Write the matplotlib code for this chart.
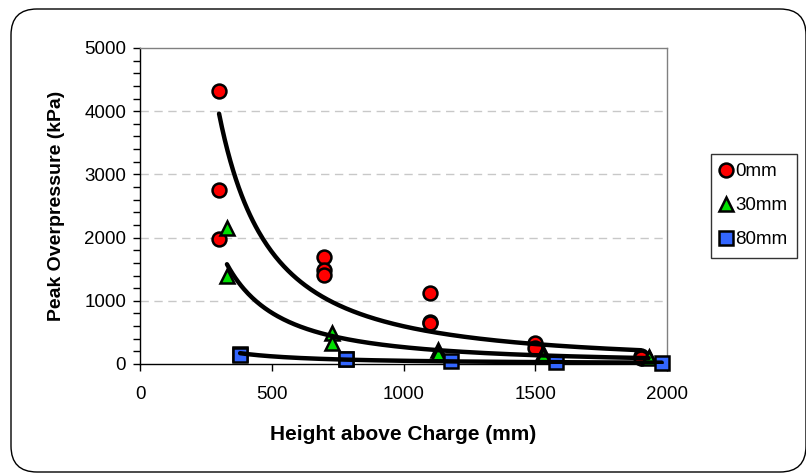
import numpy as np
import matplotlib
matplotlib.use("Agg")
import matplotlib.pyplot as plt
from matplotlib.patches import FancyBboxPatch
from matplotlib.ticker import MultipleLocator

plt.rcParams['font.family'] = ['Liberation Sans', 'DejaVu Sans']

# Measured peak overpressure (kPa) against height above charge (mm)
x_0mm = [300, 300, 300, 700, 700, 700, 1100, 1100, 1100, 1500, 1500, 1900, 1900]
y_0mm = [4320, 2750, 1970, 1700, 1490, 1410, 1130, 670, 650, 330, 260, 130, 100]

x_30mm = [330, 330, 730, 730, 1130, 1130, 1530, 1530, 1930, 1930]
y_30mm = [2150, 1385, 485, 330, 220, 160, 170, 130, 110, 90]

x_80mm = [380, 380, 780, 780, 1180, 1580, 1980]
y_80mm = [165, 150, 85, 75, 45, 25, 20]

series_names = ["0mm", "30mm", "80mm"]

x_ticks = [0, 500, 1000, 1500, 2000]
y_ticks = [0, 1000, 2000, 3000, 4000, 5000]

W, H = 806, 474
fig = plt.figure(figsize=(W / 100, H / 100), dpi=100)

# rounded chart frame, in pixel units (origin bottom-left)
frame = FancyBboxPatch((11, H - 472), 806 - 11, 472 - 9,
                       boxstyle="round,pad=0,rounding_size=26",
                       transform=None, facecolor="none",
                       edgecolor="black", linewidth=1.0, zorder=-1)
fig.patches.append(frame)

ax = fig.add_axes([140 / W, 1 - 364 / H, (667 - 140) / W, (364 - 48) / H])
ax.set_facecolor("white")

ax.set_xlim(0, 2000)
ax.set_ylim(0, 5000)
ax.set_xticks(x_ticks)
ax.set_yticks(y_ticks)
ax.yaxis.set_minor_locator(MultipleLocator(200))

for yv in y_ticks[1:-1]:
    ax.axhline(yv, color="#c8c8c8", linewidth=1.0, linestyle=(0, (6, 4)), zorder=0)

for side in ("top", "right"):
    ax.spines[side].set_color("#808080")
    ax.spines[side].set_linewidth(1.0)
for side in ("left", "bottom"):
    ax.spines[side].set_color("black")
    ax.spines[side].set_linewidth(1.0)

ax.tick_params(axis="both", which="major", direction="out", length=5, width=1,
               labelsize=13.5, colors="black", pad=4)
ax.tick_params(axis="y", which="minor", direction="out", length=5, width=1)
ax.tick_params(axis="x", pad=11)
ax.tick_params(axis="y", pad=5)


def power_fit(xs, ys):
    b, ln_a = np.polyfit(np.log(xs), np.log(ys), 1)
    return np.exp(ln_a), b


series = [
    (x_0mm, y_0mm, "o", "#ff0000", 10),
    (x_30mm, y_30mm, "^", "#00e000", 10),
    (x_80mm, y_80mm, "s", "#3366ff", 10),
]

handles = []
for (xs, ys, m, c, ms), name in zip(series, series_names):
    h, = ax.plot(xs, ys, linestyle="none", marker=m, markersize=ms,
                 markerfacecolor=c, markeredgecolor="black",
                 markeredgewidth=1.8, label=name, zorder=3, clip_on=False)
    handles.append(h)

# power-law trend lines over each series' range
for xs, ys, m, c, ms in series:
    a, b = power_fit(np.array(xs, float), np.array(ys, float))
    xx = np.linspace(min(xs), max(xs), 300)
    ax.plot(xx, a * xx ** b, color="black", linewidth=3.2, zorder=4,
            solid_capstyle="round")

ax.set_xlabel("Height above Charge (mm)", fontsize=15, fontweight="bold",
              labelpad=16)
ax.set_ylabel("Peak Overpressure (kPa)", fontsize=14, fontweight="bold",
              labelpad=14)

leg = fig.legend(handles=handles, labels=series_names,
                 loc="upper left", bbox_to_anchor=(711 / W, 1 - 154 / H),
                 frameon=True, fancybox=False, edgecolor="black",
                 fontsize=13.5, handlelength=0.6, handletextpad=0.2,
                 borderpad=0.5, labelspacing=0.9, borderaxespad=0)
leg.get_frame().set_linewidth(1.0)
for lh in leg.legend_handles:
    lh.set_markersize(10)

fig.savefig("out.png", dpi=100)
